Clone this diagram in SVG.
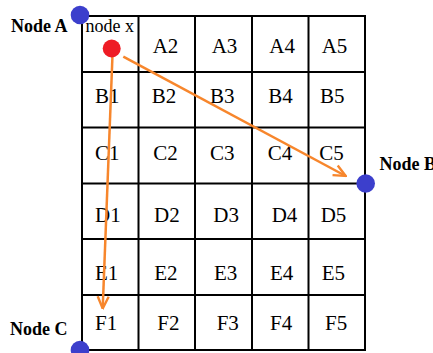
<svg xmlns="http://www.w3.org/2000/svg" width="433" height="353" viewBox="0 0 433 353">
<style>
.grid line{stroke:#000;stroke-width:2}
.cell{font-family:"Liberation Serif","Times New Roman",serif;font-size:21px;fill:#000}
.lbl{font-family:"Liberation Serif","Times New Roman",serif;font-size:18px;font-weight:bold;fill:#000}
.nx{font-family:"Liberation Serif","Times New Roman",serif;font-size:18px;fill:#000}
.blue{fill:#3c3fcc}
.conn{stroke:#f7862c;stroke-width:2.5;fill:none}
</style>
<defs>
<marker id="arr" viewBox="0 0 14 14" refX="13" refY="7" markerWidth="14" markerHeight="14" markerUnits="userSpaceOnUse" orient="auto">
<path d="M1,1.5 L13,7 L1,12.5" fill="none" stroke="#f7862c" stroke-width="2.4"/>
</marker>
</defs>
<rect width="433" height="353" fill="#fff"/>
<g id="grid" class="grid">
<line x1="82" y1="16" x2="82" y2="351"/>
<line x1="138.5" y1="16" x2="138.5" y2="351"/>
<line x1="195" y1="16" x2="195" y2="351"/>
<line x1="252" y1="16" x2="252" y2="351"/>
<line x1="308.5" y1="16" x2="308.5" y2="351"/>
<line x1="365" y1="16" x2="365" y2="351"/>
<line x1="81" y1="16" x2="366" y2="16"/>
<line x1="81" y1="72" x2="366" y2="72"/>
<line x1="81" y1="127.5" x2="366" y2="127.5"/>
<line x1="81" y1="183.5" x2="366" y2="183.5"/>
<line x1="81" y1="239" x2="366" y2="239"/>
<line x1="81" y1="295" x2="366" y2="295"/>
<line x1="81" y1="350" x2="366" y2="350"/>
</g>
<g id="cells" class="cell">
<text x="85.5" y="32" class="nx">node x</text>
<text x="152.7" y="53">A2</text><text x="211.7" y="53">A3</text><text x="269.3" y="53">A4</text><text x="321.7" y="53">A5</text>
<text x="95" y="103">B1</text><text x="151.7" y="103">B2</text><text x="210" y="103">B3</text><text x="268.3" y="103">B4</text><text x="320" y="103">B5</text>
<text x="95" y="160">C1</text><text x="153.3" y="160">C2</text><text x="210" y="160">C3</text><text x="267.7" y="160">C4</text><text x="319.3" y="160">C5</text>
<text x="95" y="222">D1</text><text x="154" y="222">D2</text><text x="213.3" y="222">D3</text><text x="271.7" y="222">D4</text><text x="320.7" y="222">D5</text>
<text x="95" y="280">E1</text><text x="154.3" y="280">E2</text><text x="214" y="280">E3</text><text x="270" y="280">E4</text><text x="321.7" y="280">E5</text>
<text x="95" y="330">F1</text><text x="157.3" y="330">F2</text><text x="216.7" y="330">F3</text><text x="270" y="330">F4</text><text x="325" y="330">F5</text>
</g>
<g id="connectors">
<line class="conn" x1="112.5" y1="55" x2="102.7" y2="308.5" marker-end="url(#arr)"/>
<line class="conn" x1="123.3" y1="56.7" x2="345.7" y2="176" marker-end="url(#arr)"/>
</g>
<g id="node-x">
<circle cx="111.7" cy="48.5" r="9" fill="#ee1c25"/>
</g>
<g id="node-a">
<circle class="blue" cx="80" cy="15" r="9.3"/>
<text class="lbl" x="11" y="32">Node A</text>
</g>
<g id="node-b">
<circle class="blue" cx="365.7" cy="183.5" r="9.3"/>
<text class="lbl" x="379.5" y="169.5">Node B</text>
</g>
<g id="node-c">
<circle class="blue" cx="80" cy="350" r="9.3"/>
<text class="lbl" x="10" y="335">Node C</text>
</g>
</svg>
